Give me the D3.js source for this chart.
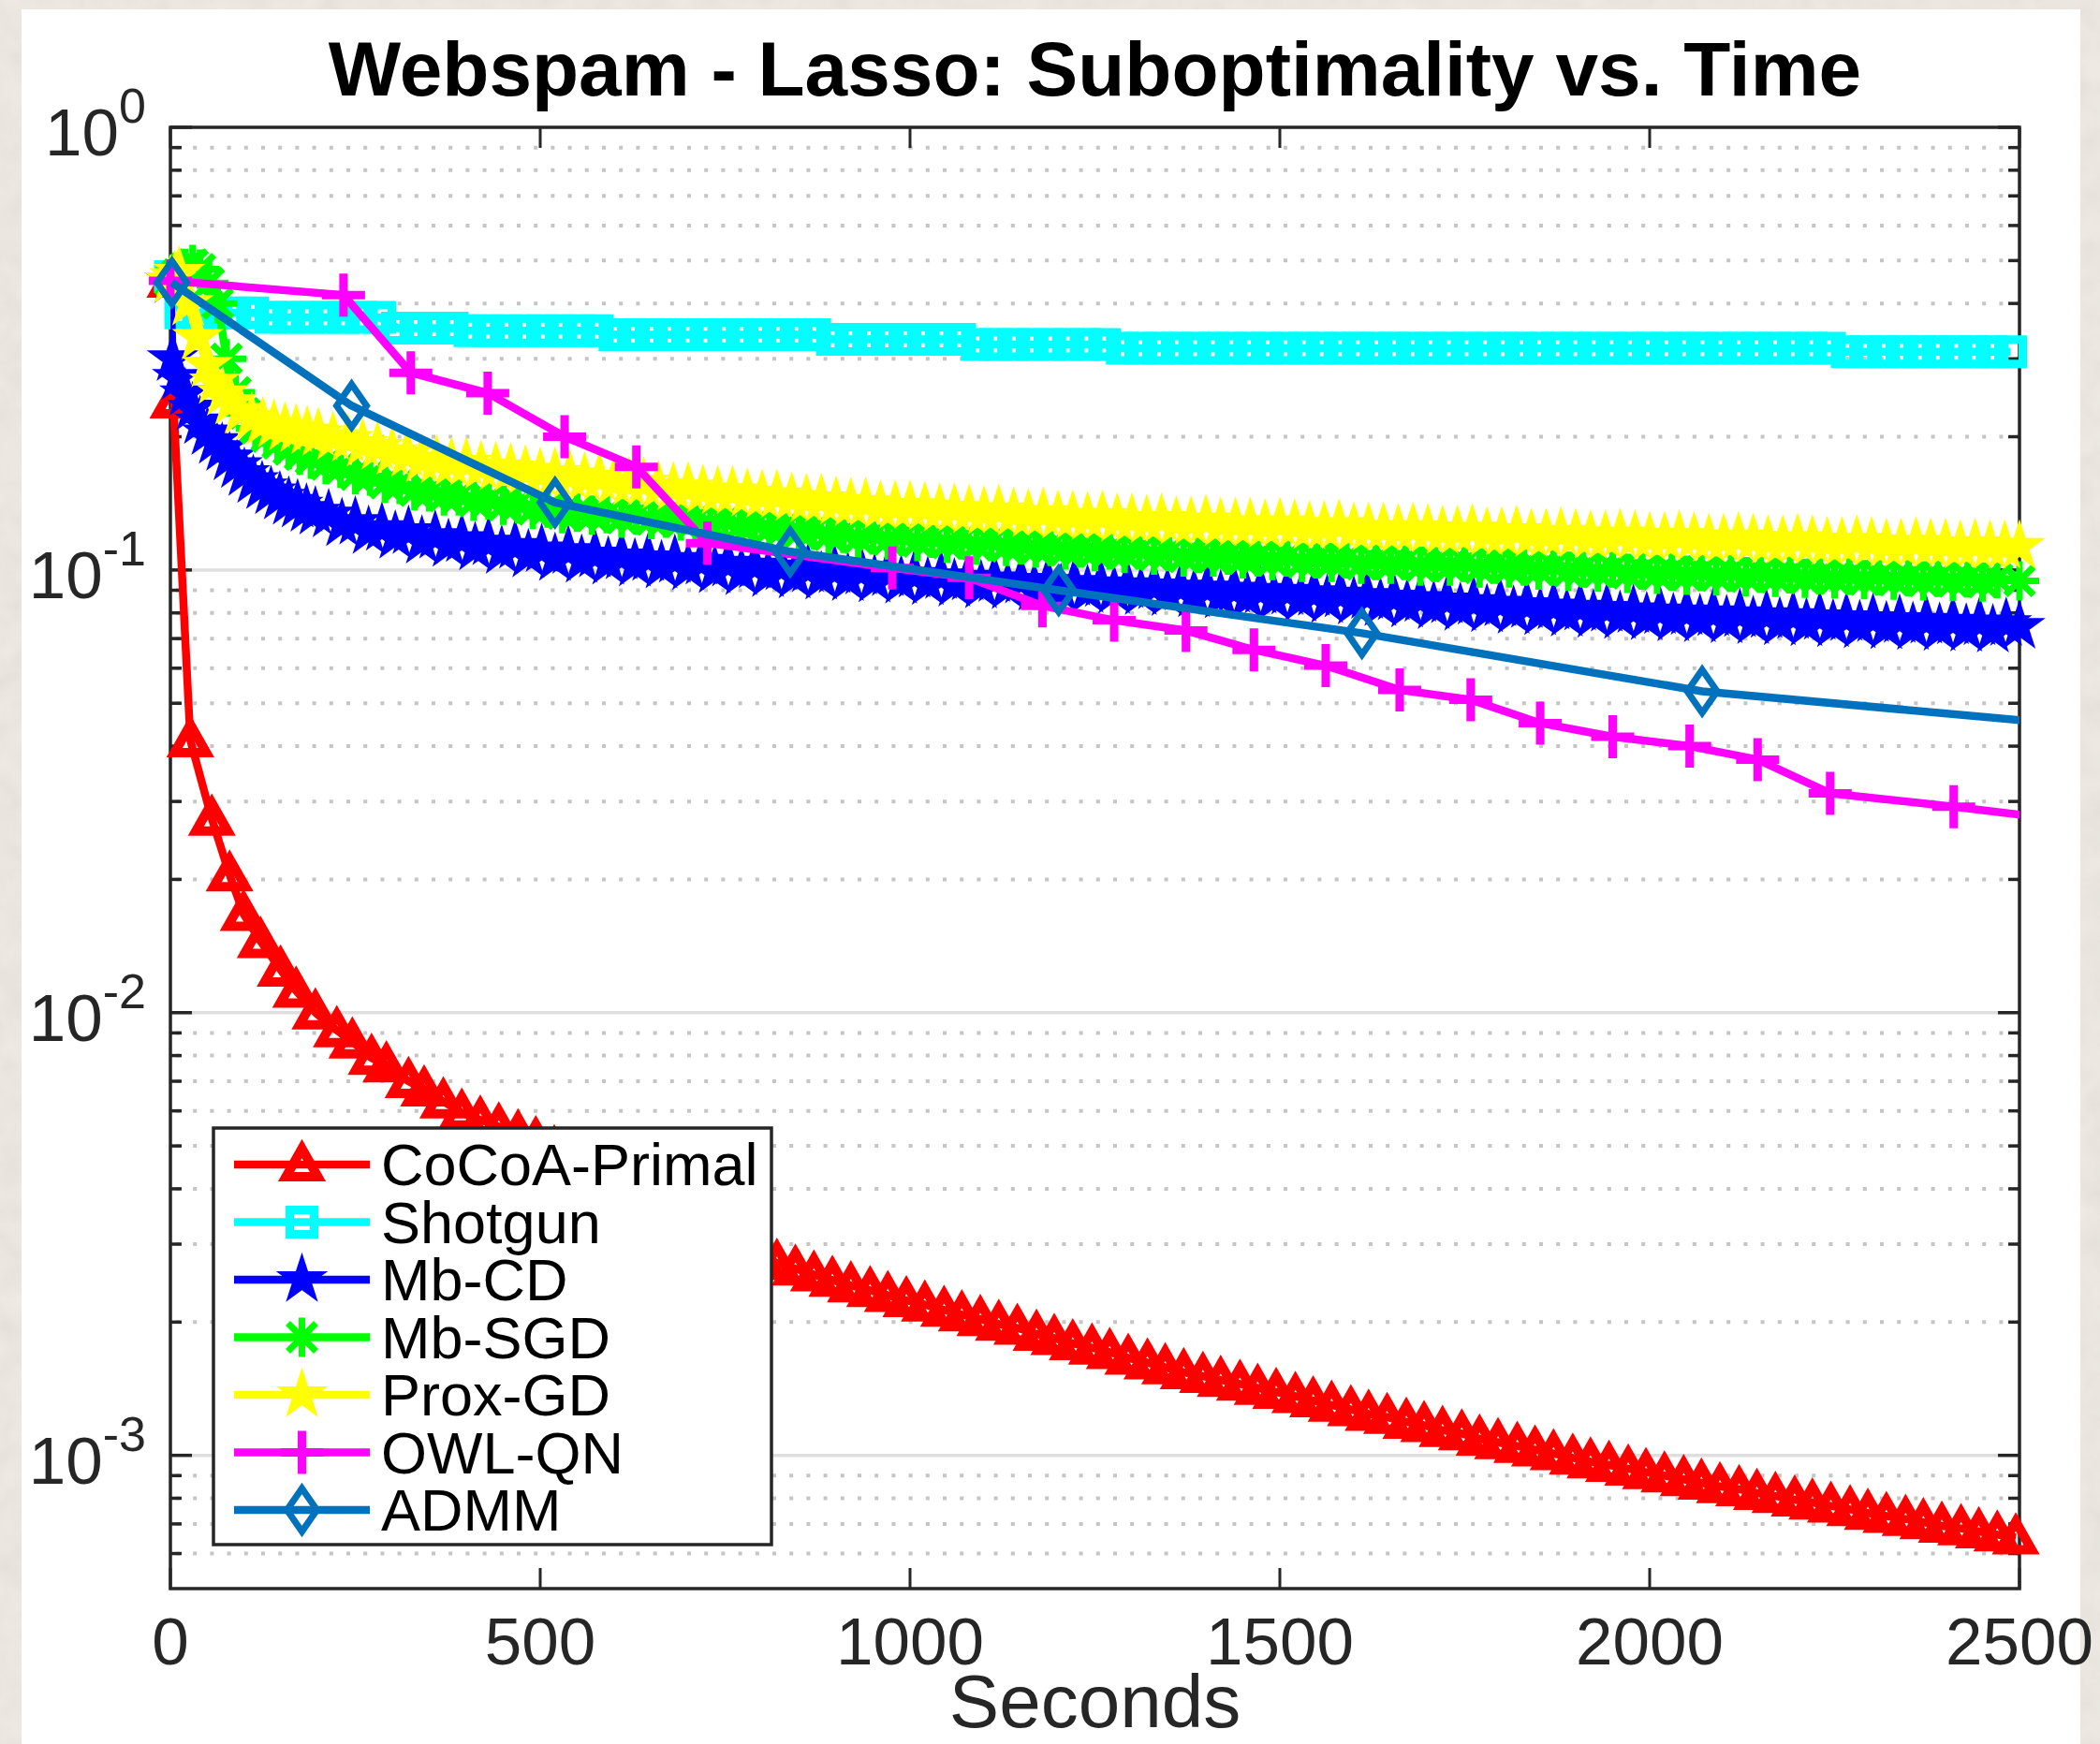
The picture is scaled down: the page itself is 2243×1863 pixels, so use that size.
<!DOCTYPE html>
<html>
<head>
<meta charset="utf-8">
<script src="https://cdn.jsdelivr.net/npm/d3@7"></script>
<style>
  html, body { margin: 0; padding: 0; background: #f2eee7; }
  svg { display: block; }
  text { font-family: "Liberation Sans", Arial, Helvetica, sans-serif; }
</style>
</head>
<body>
<svg id="chart" width="2243" height="1863"></svg>
<script>
// ---------- data: [seconds, suboptimality] ----------
const cocoaPrimal = [[0,0.45],[4,0.24],[27,0.0412],[56,0.0274],[80,0.0205],[99,0.0167],[122,0.0145],[149,0.0125],[170,0.0112],[196,0.0100],[225,0.00912],[246,0.0086],[272,0.0079],[292,0.0076],[322,0.0070],[343,0.0067],[369,0.0063],[394,0.00594],
[419,0.00573],[444,0.00553],[470,0.00533],[494,0.00515],[519,0.00491],[545,0.00466],[569,0.00444],[594,0.00421],[620,0.00399],[645,0.00379],[669,0.00361],[695,0.00342],[720,0.00327],[744,0.00312],[770,0.00297],[795,0.00284],[820,0.00272],[845,0.00264],[870,0.00256],[895,0.00249],[920,0.00242],[946,0.00236],[970,0.00230],[995,0.00224],[1020,0.00219],[1046,0.00213],[1070,0.00208],[1095,0.00203],[1120,0.00198],[1145,0.00194],[1171,0.00188],[1195,0.00184],[1220,0.00179],[1246,0.00175],[1270,0.00171],[1295,0.00166],[1321,0.00162],[1345,0.00158],[1370,0.00154],[1396,0.00151],[1420,0.00148],[1446,0.00145],[1470,0.00142],[1495,0.00139],[1521,0.00136],[1545,0.00133],[1570,0.00130],[1596,0.00127],[1620,0.00124],[1645,0.00122],[1671,0.00119],[1695,0.00117],[1720,0.00114],[1746,0.00112],[1770,0.00109],[1795,0.00107],[1821,0.00105],[1845,0.00103],[1870,0.00101],[1896,0.000987],[1920,0.000968],[1945,0.000951],[1971,0.000933],[1995,0.000916],[2020,0.000900],[2046,0.000883],[2070,0.000867],[2095,0.000851],[2121,0.000838],[2145,0.000822],[2170,0.000809],[2196,0.000794],[2220,0.000782],[2245,0.000769],[2271,0.000755],[2295,0.000741],[2320,0.000729],[2346,0.000718],[2370,0.000706],[2395,0.000693],[2421,0.000684],[2445,0.000673],[2470,0.000662],[2495,0.000652]];

const shotgun = [[0,0.46],[14,0.381],[38,0.381],[62,0.381],[87,0.381],[111,0.381],
[136,0.372],[160,0.372],[185,0.372],[209,0.372],[234,0.372],[258,0.372],[283,0.372],
[307,0.352],[332,0.352],[356,0.352],[381,0.352],
[405,0.347],[430,0.347],[454,0.347],[479,0.347],[503,0.347],[528,0.347],[552,0.347],[577,0.347],
[601,0.340],[626,0.340],[650,0.340],[675,0.340],[699,0.340],[724,0.340],[748,0.340],[773,0.340],[797,0.340],[822,0.340],[846,0.340],[871,0.340],
[895,0.332],[920,0.332],[944,0.332],[969,0.332],[993,0.332],[1018,0.332],[1042,0.332],[1067,0.332],
[1091,0.323],[1116,0.323],[1140,0.323],[1165,0.323],[1189,0.323],[1214,0.323],[1238,0.323],[1263,0.323],
[1287,0.317],[1312,0.317],[1336,0.317],[1361,0.317],[1385,0.317],[1410,0.317],[1434,0.317],[1459,0.317],[1483,0.317],[1508,0.317],[1532,0.317],[1557,0.317],[1581,0.317],[1606,0.317],[1630,0.317],[1655,0.317],[1679,0.317],[1704,0.317],[1728,0.317],[1753,0.317],[1777,0.317],[1802,0.317],[1826,0.317],[1851,0.317],[1875,0.317],[1900,0.317],[1924,0.317],[1949,0.317],[1973,0.317],[1998,0.317],[2022,0.317],[2047,0.317],[2071,0.317],[2096,0.317],[2120,0.317],[2145,0.317],[2169,0.317],[2194,0.317],[2218,0.317],[2243,0.317],
[2267,0.311],[2292,0.311],[2316,0.311],[2341,0.311],[2365,0.311],[2390,0.311],[2414,0.311],[2439,0.311],[2463,0.311],[2488,0.311]];

const mbCD = [[0,0.45],[3,0.30],[10,0.272],[20,0.250],[30,0.232],[40,0.216],[50,0.204],[60,0.195],[70,0.188],[80,0.179],[90,0.172],[100,0.165],[112,0.159],[124,0.154],[136,0.150],[148,0.146],[160,0.142],[172,0.140],[184,0.137],[196,0.135],
[214,0.133],[232,0.127],[250,0.128],[268,0.122],[286,0.124],[304,0.119],[322,0.122],[340,0.116],[358,0.119],[376,0.114],[394,0.117],[412,0.112],[430,0.115],[448,0.110],[466,0.113],[484,0.108],[502,0.111],[520,0.106],[538,0.110],[556,0.105],[574,0.108],[592,0.104],[610,0.107],[628,0.103],[646,0.106],[664,0.102],[682,0.105],[700,0.101],[718,0.104],[736,0.0995],[754,0.103],[772,0.0985],[790,0.102],[808,0.0975],[826,0.101],[844,0.0968],[862,0.100],[880,0.0962],[898,0.0995],[916,0.0955],[934,0.0988],[952,0.0948],[970,0.0980],[988,0.0942],[1006,0.0972],[1024,0.0935],[1042,0.0965],[1060,0.0928],[1078,0.0958],[1096,0.0920],[1114,0.0950],[1132,0.0915],[1150,0.0943],[1168,0.0908],[1186,0.0937],[1204,0.0902],[1222,0.0932],[1240,0.0897],[1258,0.0926],[1276,0.0893],[1294,0.0921],[1312,0.0888],[1330,0.0915],[1348,0.0883],[1366,0.0910],[1384,0.0878],[1402,0.0905],[1420,0.0873],[1438,0.0900],[1456,0.0868],[1474,0.0895],[1492,0.0863],[1510,0.0890],[1528,0.0858],[1546,0.0884],[1564,0.0852],[1582,0.0877],[1600,0.0845],[1618,0.0871],[1636,0.0838],[1654,0.0864],[1672,0.0832],[1690,0.0857],[1708,0.0825],[1726,0.0851],[1744,0.0818],[1762,0.0844],[1780,0.0812],[1798,0.0837],[1816,0.0805],[1834,0.0830],[1852,0.0799],[1870,0.0824],[1888,0.0794],[1906,0.0819],[1924,0.0789],[1942,0.0814],[1960,0.0784],[1978,0.0809],[1996,0.0779],[2014,0.0804],[2032,0.0775],[2050,0.0800],[2068,0.0771],[2086,0.0796],[2104,0.0767],[2122,0.0792],[2140,0.0763],[2158,0.0788],[2176,0.0759],[2194,0.0784],[2212,0.0755],[2230,0.0780],[2248,0.0751],[2266,0.0776],[2284,0.0747],[2302,0.0772],[2320,0.0743],[2338,0.0768],[2356,0.0740],[2374,0.0765],[2392,0.0737],[2410,0.0762],[2428,0.0734],[2446,0.0759],[2464,0.0731],[2482,0.0756],[2500,0.0745]];

const mbSGD = [[0,0.450],[10,0.465],[20,0.480],[30,0.490],[40,0.478],[52,0.445],[64,0.400],[76,0.300],[88,0.252],[100,0.226],[115,0.209],[130,0.200],[145,0.193],[160,0.187],[175,0.182],[190,0.178],[210,0.173],[230,0.170],[250,0.164],[270,0.163],[290,0.157],[310,0.156],[330,0.151],[350,0.150],[370,0.147],[390,0.147],[410,0.143],[430,0.144],[450,0.140],[470,0.141],[490,0.137],[510,0.138],[530,0.134],[550,0.135],[570,0.133],[590,0.134],[610,0.131],[630,0.133],[650,0.130],[670,0.131],[690,0.129],[710,0.130],[730,0.127],[750,0.129],[770,0.126],[790,0.127],[810,0.124],[830,0.125],[850,0.122],[870,0.123],[890,0.120],[910,0.121],[930,0.118],[950,0.120],[970,0.117],[990,0.119],[1010,0.116],[1030,0.118],[1050,0.115],[1070,0.117],[1090,0.114],[1110,0.116],[1130,0.113],[1150,0.114],[1170,0.112],[1190,0.113],[1210,0.111],[1230,0.112],[1250,0.110],[1270,0.111],[1290,0.109],[1310,0.111],[1330,0.108],[1350,0.110],[1370,0.107],[1390,0.109],[1410,0.107],[1430,0.108],[1450,0.106],[1470,0.107],[1490,0.105],[1510,0.107],[1530,0.104],[1550,0.106],[1570,0.104],[1590,0.106],[1610,0.103],[1630,0.105],[1650,0.103],[1670,0.105],[1690,0.102],[1710,0.104],[1730,0.102],[1750,0.104],[1770,0.101],[1790,0.103],[1810,0.101],[1830,0.102],[1850,0.100],[1870,0.102],[1890,0.0993],[1910,0.101],[1930,0.0988],[1950,0.101],[1970,0.0983],[1990,0.100],[2010,0.0978],[2030,0.0995],[2050,0.0973],[2070,0.0992],[2090,0.0970],[2110,0.0988],[2130,0.0966],[2150,0.0984],[2170,0.0962],[2190,0.0980],[2210,0.0958],[2230,0.0977],[2250,0.0955],[2270,0.0973],[2290,0.0951],[2310,0.0970],[2330,0.0948],[2350,0.0966],[2370,0.0945],[2390,0.0963],[2410,0.0942],[2430,0.0960],[2450,0.0939],[2470,0.0956],[2500,0.0945]];

const proxGD = [[0,0.450],[6,0.460],[12,0.470],[24,0.400],[37,0.335],[50,0.290],[60,0.266],[71,0.250],[82,0.239],[95,0.228],[110,0.220],[125,0.215],[140,0.212],[155,0.209],[170,0.207],[185,0.205],[200,0.203],[220,0.199],[240,0.197],[260,0.192],[280,0.189],[300,0.184],[320,0.182],[340,0.177],[360,0.176],[380,0.174],[400,0.174],[420,0.171],[440,0.170],[460,0.169],[480,0.167],[500,0.165],[520,0.165],[540,0.163],[560,0.161],[580,0.161],[600,0.158],[620,0.157],[640,0.157],[660,0.154],[680,0.153],[700,0.153],[720,0.151],[740,0.150],[760,0.150],[780,0.148],[800,0.147],[820,0.147],[840,0.145],[860,0.144],[880,0.144],[900,0.142],[920,0.141],[940,0.141],[960,0.139],[980,0.139],[1000,0.139],[1020,0.138],[1040,0.137],[1060,0.137],[1080,0.136],[1100,0.135],[1120,0.136],[1140,0.134],[1160,0.133],[1180,0.134],[1200,0.132],[1220,0.132],[1240,0.131],[1260,0.132],[1280,0.130],[1300,0.130],[1320,0.129],[1340,0.130],[1360,0.128],[1380,0.128],[1400,0.129],[1420,0.127],[1440,0.127],[1460,0.127],[1480,0.126],[1500,0.127],[1520,0.126],[1540,0.125],[1560,0.125],[1580,0.126],[1600,0.124],[1620,0.124],[1640,0.124],[1660,0.123],[1680,0.124],[1700,0.123],[1720,0.122],[1740,0.122],[1760,0.123],[1780,0.121],[1800,0.121],[1820,0.122],[1840,0.120],[1860,0.120],[1880,0.121],[1900,0.120],[1920,0.119],[1940,0.119],[1960,0.120],[1980,0.119],[2000,0.118],[2020,0.118],[2040,0.119],[2060,0.118],[2080,0.117],[2100,0.117],[2120,0.118],[2140,0.117],[2160,0.116],[2180,0.116],[2200,0.117],[2220,0.116],[2240,0.115],[2260,0.115],[2280,0.116],[2300,0.115],[2320,0.114],[2340,0.114],[2360,0.115],[2380,0.114],[2400,0.114],[2420,0.113],[2440,0.114],[2460,0.113],[2480,0.113],[2500,0.113]];

const owlQN = [[0,0.45],[234,0.418],[325,0.279],[429,0.251],[533,0.200],[630,0.171],[726,0.115],[976,0.101],[1080,0.096],[1179,0.083],[1276,0.077],[1373,0.073],[1465,0.066],[1562,0.0608],[1662,0.0536],[1758,0.0509],[1852,0.0451],[1950,0.0420],[2054,0.0400],[2146,0.0373],[2244,0.0313],[2411,0.0292],[2540,0.0275]];

const admm = [[2,0.446],[245,0.235],[520,0.142],[838,0.110],[1201,0.090],[1611,0.072],[2071,0.0532],[2531,0.0453]];

const seriesNames = ["CoCoA-Primal", "Shotgun", "Mb-CD", "Mb-SGD", "Prox-GD", "OWL-QN", "ADMM"];
const seriesColors = ["#ff0000", "#00ffff", "#0000ff", "#00ff00", "#ffff00", "#ff00ff", "#0072bd"];
const seriesMarkers = ["triangle", "square", "pentagram", "asterisk", "pentagram", "plus", "diamond"];
const seriesData = [cocoaPrimal, shotgun, mbCD, mbSGD, proxGD, owlQN, admm];

const xTickValues = [0, 500, 1000, 1500, 2000, 2500];
const yMajorExponents = [0, -1, -2, -3];
const titleText = "Webspam - Lasso: Suboptimality vs. Time";
const xLabelText = "Seconds";

// ---------- layout ----------
const W = 2243, H = 1863;
const L = 182, R = 2157, T = 136, B = 1697;
const axisColor = "#262626";
const lineWidth = 8.5;

const x = d3.scaleLinear().domain([0, 2500]).range([L, R]);
const y = d3.scaleLog().domain([5e-4, 1]).range([B, T]);

const svg = d3.select("#chart");
const defs = svg.append("defs");

// paper-like surround
const paper = defs.append("filter").attr("id", "paperGrain").attr("x", 0).attr("y", 0).attr("width", 1).attr("height", 1);
paper.append("feTurbulence").attr("type", "fractalNoise").attr("baseFrequency", 0.035).attr("numOctaves", 4).attr("seed", 7);
paper.append("feColorMatrix").attr("type", "matrix")
  .attr("values", "0.33 0.33 0.33 0 0  0.33 0.33 0.33 0 0  0.33 0.33 0.33 0 0  0 0 0 0 1");
svg.append("rect").attr("width", W).attr("height", H).attr("fill", "#f1ede5");
svg.append("rect").attr("width", W).attr("height", H).attr("filter", "url(#paperGrain)").attr("opacity", 0.12);
svg.append("rect").attr("x", 23).attr("y", 10).attr("width", 2199).attr("height", H - 10).attr("fill", "#ffffff");

defs.append("clipPath").attr("id", "plotClip")
  .append("rect").attr("x", L).attr("y", T).attr("width", R - L).attr("height", B - T);

// ---------- grid ----------
const allTicks = y.ticks().filter(v => v > 5.0001e-4 && v < 0.9999);
const isMajor = v => Math.abs(Math.log10(v) - Math.round(Math.log10(v))) < 1e-6;
const minorTicks = allTicks.filter(v => !isMajor(v));
const majorTicks = allTicks.filter(isMajor);

const grid = svg.append("g");
grid.selectAll("line.minor").data(minorTicks).join("line")
  .attr("x1", L).attr("x2", R)
  .attr("y1", d => y(d)).attr("y2", d => y(d))
  .attr("stroke", "#c5c5c5").attr("stroke-width", 4)
  .attr("stroke-dasharray", "4,14.2").attr("stroke-dashoffset", -6);
grid.selectAll("line.major").data(majorTicks).join("line")
  .attr("x1", L).attr("x2", R)
  .attr("y1", d => y(d)).attr("y2", d => y(d))
  .attr("stroke", "#dedede").attr("stroke-width", 3.5);

// ---------- axes box and ticks ----------
const ax = svg.append("g").attr("stroke", axisColor).attr("stroke-width", 3.5).attr("fill", "none");
ax.append("rect").attr("x", L).attr("y", T).attr("width", R - L).attr("height", B - T);
allTicks.concat([1]).forEach(v => {
  const len = isMajor(v) ? 23 : 12;
  const yy = y(v);
  ax.append("line").attr("x1", L).attr("x2", L + len).attr("y1", yy).attr("y2", yy);
  ax.append("line").attr("x1", R).attr("x2", R - len).attr("y1", yy).attr("y2", yy);
});
xTickValues.forEach(v => {
  const xx = x(v);
  ax.append("line").attr("x1", xx).attr("x2", xx).attr("y1", B).attr("y2", B - 22).attr("stroke-width", 3);
  ax.append("line").attr("x1", xx).attr("x2", xx).attr("y1", T).attr("y2", T + 22).attr("stroke-width", 3);
});

// tick labels
const xl = svg.append("g").attr("fill", axisColor).attr("font-size", 71).attr("text-anchor", "middle");
xTickValues.forEach(v => xl.append("text").attr("x", x(v)).attr("y", 1778).text(v));

const yl = svg.append("g").attr("fill", axisColor).attr("text-anchor", "end");
yMajorExponents.forEach(e => {
  const t = yl.append("text").attr("x", 156).attr("y", y(Math.pow(10, e)) + 30).attr("font-size", 71);
  t.append("tspan").text("10");
  t.append("tspan").attr("font-size", 52).attr("dy", -35).text(String(e));
});

// ---------- markers ----------
function starPath(r) {
  const ri = r * 0.382;
  let p = "";
  for (let i = 0; i < 10; i++) {
    const a = -Math.PI / 2 + i * Math.PI / 5;
    const rr = i % 2 ? ri : r;
    p += (i ? "L" : "M") + (rr * Math.cos(a)).toFixed(2) + "," + (rr * Math.sin(a)).toFixed(2);
  }
  return p + "Z";
}
const markerStyles = {
  triangle:  { d: "M0,-17L17,13L-17,13Z", fill: false, sw: 10 },
  square:    { d: "M-13,-13H13V13H-13Z", fill: false, sw: 9 },
  pentagram: { d: starPath(26), fill: true, sw: 2 },
  asterisk:  { d: "M0,-21V21M-21,0H21M-15,-15L15,15M-15,15L15,-15", fill: false, sw: 7 },
  plus:      { d: "M0,-23V23M-23,0H23", fill: false, sw: 9 },
  diamond:   { d: "M0,-23L16,0L0,23L-16,0Z", fill: false, sw: 7 }
};
function drawMarker(g, kind, color, cx, cy) {
  const m = markerStyles[kind];
  g.append("path").attr("d", m.d)
    .attr("transform", `translate(${cx},${cy})`)
    .attr("fill", m.fill ? color : "none")
    .attr("stroke", color).attr("stroke-width", m.sw)
    .attr("stroke-linejoin", "miter").attr("stroke-miterlimit", 10);
}

// ---------- series ----------
const line = d3.line().x(d => x(d[0])).y(d => y(d[1]));
const plot = svg.append("g");
seriesData.forEach((data, i) => {
  const g = plot.append("g");
  g.append("path").datum(data).attr("d", line)
    .attr("clip-path", "url(#plotClip)")
    .attr("fill", "none").attr("stroke", seriesColors[i]).attr("stroke-width", lineWidth)
    .attr("stroke-linejoin", "round");
  data.filter(d => d[0] >= 0 && d[0] <= 2500).forEach(d =>
    drawMarker(g, seriesMarkers[i], seriesColors[i], x(d[0]), y(d[1])));
});

// ---------- legend ----------
const lg = svg.append("g");
lg.append("rect").attr("x", 228).attr("y", 1205).attr("width", 596).attr("height", 445)
  .attr("fill", "#ffffff").attr("stroke", axisColor).attr("stroke-width", 3.5);
seriesNames.forEach((name, i) => {
  const cy = 1244 + i * 61.5;
  lg.append("line").attr("x1", 250).attr("x2", 395).attr("y1", cy).attr("y2", cy)
    .attr("stroke", seriesColors[i]).attr("stroke-width", lineWidth);
  drawMarker(lg, seriesMarkers[i], seriesColors[i], 322.5, cy);
  lg.append("text").attr("x", 407).attr("y", cy + 22).attr("font-size", 63).attr("fill", "#000").text(name);
});

// ---------- title and axis label ----------
svg.append("text").attr("x", (L + R) / 2).attr("y", 102).attr("text-anchor", "middle")
  .attr("font-size", 82).attr("font-weight", "bold").attr("fill", "#000").text(titleText);
svg.append("text").attr("x", (L + R) / 2).attr("y", 1845).attr("text-anchor", "middle")
  .attr("font-size", 80).attr("fill", axisColor).text(xLabelText);
</script>
</body>
</html>
